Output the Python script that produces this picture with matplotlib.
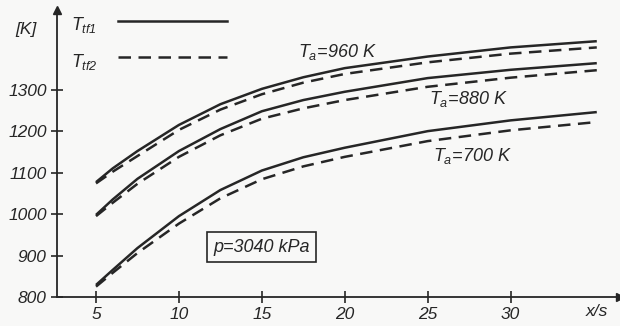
import matplotlib
matplotlib.use('Agg')

import matplotlib.pyplot as plt

# flame tube temperature vs. x/s, p = 3040 kPa
x = [5, 6, 7.5, 10, 12.5, 15, 17.5, 20, 25, 30, 35.2]

# T_tf1 (solid) and T_tf2 (dashed) for the three air temperatures
t960_1 = [1077, 1110, 1152, 1215, 1265, 1302, 1330, 1352, 1380, 1402, 1417]
t960_2 = [1074, 1102, 1140, 1203, 1252, 1289, 1317, 1338, 1366, 1387, 1402]
t880_1 = [998, 1035, 1085, 1152, 1205, 1248, 1275, 1295, 1328, 1348, 1364]
t880_2 = [995, 1027, 1073, 1138, 1190, 1230, 1255, 1275, 1307, 1329, 1347]
t700_1 = [829, 865, 918, 995, 1058, 1105, 1137, 1160, 1200, 1226, 1246]
t700_2 = [825, 858, 906, 977, 1038, 1084, 1115, 1138, 1176, 1202, 1222]

labels = ['$T_a$=960 K', '$T_a$=880 K', '$T_a$=700 K']
xticks = [5, 10, 15, 20, 25, 30]
yticks = [800, 900, 1000, 1100, 1200, 1300]

ink = '#262626'
bg = '#f8f8f7'

plt.rcParams['font.family'] = ['Liberation Sans', 'DejaVu Sans']
plt.rcParams['font.style'] = 'italic'
plt.rcParams['mathtext.fontset'] = 'custom'
plt.rcParams['mathtext.it'] = 'Liberation Sans:italic'
plt.rcParams['mathtext.rm'] = 'Liberation Sans:italic'

fig = plt.figure(figsize=(6.2, 3.26), dpi=100, facecolor=bg)
ax = fig.add_axes([0.092, 0.089, 0.908, 0.880])
ax.set_facecolor(bg)

for solid, dashed in [(t960_1, t960_2), (t880_1, t880_2), (t700_1, t700_2)]:
    ax.plot(x, solid, color=ink, lw=1.8, solid_capstyle='butt')
    ax.plot(x, dashed, color=ink, lw=1.8, dashes=(5, 3))

ax.set_xlim(2.65, 36.6)
ax.set_ylim(800, 1492)

# axes with arrow heads
for s in ['top', 'right']:
    ax.spines[s].set_visible(False)
for s in ['left', 'bottom']:
    ax.spines[s].set_color(ink)
    ax.spines[s].set_linewidth(1.3)
ax.plot(1, 0, '>', color=ink, ms=6, transform=ax.transAxes, clip_on=False)
ax.plot(0, 1, '^', color=ink, ms=6, transform=ax.transAxes, clip_on=False)

ax.set_xticks(xticks)
ax.set_yticks(yticks)
ax.set_xticklabels([str(v) for v in xticks], fontsize=12.5, color=ink)
ax.set_yticklabels([str(v) for v in yticks], fontsize=12.5, color=ink)
ax.tick_params(direction='inout', length=9, width=1.2, color=ink, pad=3)

# curve labels
ax.text(17.2, 1378, labels[0], fontsize=13, color=ink)
ax.text(25.1, 1265, labels[1], fontsize=13, color=ink)
ax.text(25.3, 1128, labels[2], fontsize=13, color=ink)

# axis labels
fig.text(0.025, 0.895, '[K]', fontsize=12.5, color=ink)
fig.text(0.945, 0.03, 'x/s', fontsize=12.5, color=ink)

# legend drawn by hand
ax.text(3.5, 1455, '$T_{tf1}$', fontsize=13, color=ink, va='center')
ax.text(3.5, 1368, '$T_{tf2}$', fontsize=13, color=ink, va='center')
ax.plot([6.3, 12.9], [1465, 1465], color=ink, lw=1.8)
ax.plot([6.3, 12.9], [1378, 1378], color=ink, lw=1.8, dashes=(5, 3))

ax.text(15.0, 920, 'p=3040 kPa', fontsize=13, color=ink, ha='center', va='center',
        bbox=dict(boxstyle='square,pad=0.35', fc=bg, ec=ink, lw=1.2))

plt.savefig('out.png', dpi=100, facecolor=bg)
